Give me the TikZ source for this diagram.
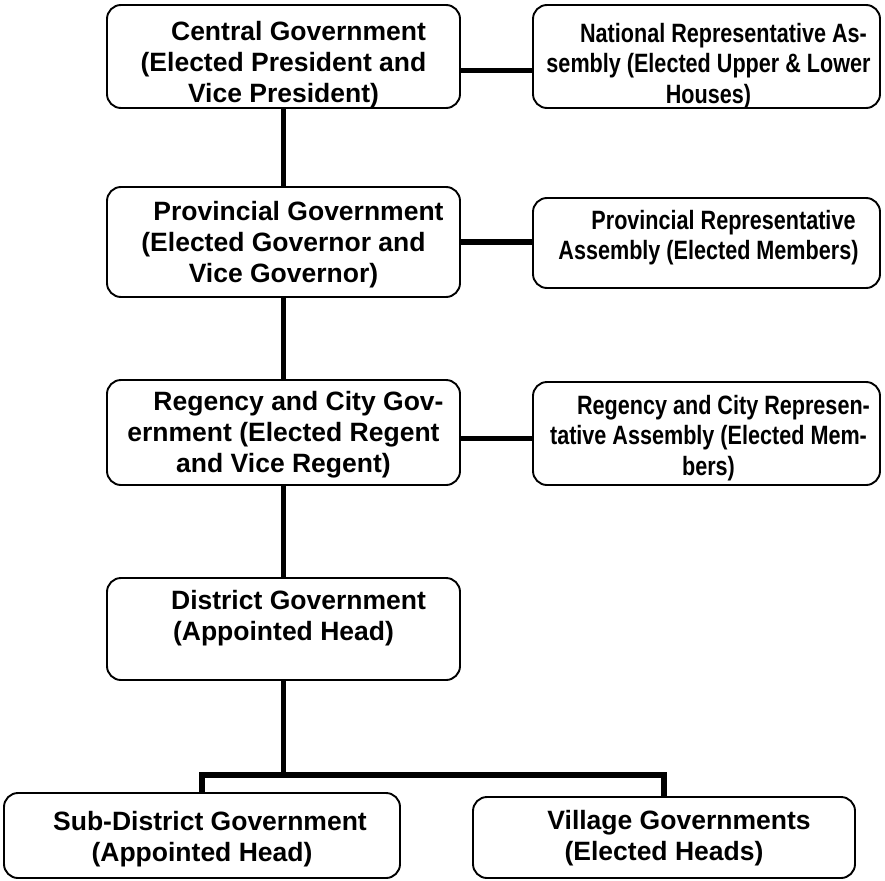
\documentclass[tikz,border=0pt]{standalone}
\usepackage{fontspec}
\setmainfont{Liberation Sans}
\newfontfamily\narrowsans[FakeStretch=0.815]{Liberation Sans}
\usetikzlibrary{positioning}

\tikzset{
  govbox/.style={draw, line width=1.9pt, rounded corners=14pt, inner sep=0pt},
  govtext/.style={align=center, inner sep=0pt, font=\fontsize{26.5}{31}\selectfont\bfseries},
  reptext/.style={align=center, inner sep=0pt, font=\narrowsans\fontsize{26.5}{30.5}\selectfont\bfseries},
  link/.style={line width=5.8pt}
}
\newcommand{\firstind}{\hspace*{30pt}}

\begin{document}
\begin{tikzpicture}[x=1pt,y=-1pt]
\useasboundingbox (0,0) rectangle (885,880);

% left column
\node[govbox, minimum width=353pt, minimum height=103pt] (cg) at (283.5,56.5) {};
\node[govbox, minimum width=353pt, minimum height=110pt] (pg) at (283.5,242) {};
\node[govbox, minimum width=353pt, minimum height=105pt] (rg) at (283.5,432.5) {};
\node[govbox, minimum width=353pt, minimum height=102pt] (dg) at (283.5,629) {};

% right column
\node[govbox, minimum width=347pt, minimum height=103pt] (nra) at (706.5,56.5) {};
\node[govbox, minimum width=347pt, minimum height=90pt] (pra) at (706.5,243) {};
\node[govbox, minimum width=347pt, minimum height=103pt] (rra) at (706.5,433.5) {};

% bottom row
\node[govbox, minimum width=396pt, minimum height=85pt] (sd) at (202,835.5) {};
\node[govbox, minimum width=382pt, minimum height=81pt] (vg) at (664,837.5) {};

% texts
\node[govtext, below=17pt of cg.north] (cgt) {\firstind Central Government\\(Elected President and\\Vice President)};
\node[govtext, below=15pt of pg.north] (pgt) {\firstind Provincial Government\\(Elected Governor and\\Vice Governor)};
\node[govtext, below=12pt of rg.north] (rgt) {\firstind Regency and City Gov-\\ernment (Elected Regent\\and Vice Regent)};
\node[govtext, below=13pt of dg.north] (dgt) {\firstind District Government\\(Appointed Head)};
\node[reptext, below=19pt of nra.north, xshift=2pt] (nrat) {\firstind National Representative As-\\sembly (Elected Upper \& Lower\\Houses)};
\node[reptext, below=13pt of pra.north, xshift=2pt] (prat) {\firstind Provincial Representative\\Assembly (Elected Members)};
\node[reptext, below=14pt of rra.north, xshift=2pt] (rrat) {\firstind Regency and City Represen-\\tative Assembly (Elected Mem-\\bers)};
\node[govtext, below=19pt of sd.north] (sdt) {\hspace*{16pt}Sub-District Government\\(Appointed Head)};
\node[govtext, below=14pt of vg.north] (vgt) {\firstind Village Governments\\(Elected Heads)};

% connectors
\draw[link] (cg) -- (pg);
\draw[link] (pg) -- (rg);
\draw[link] (rg) -- (dg);
\draw[link] ([yshift=-14pt]cg.east) -- ([yshift=-14pt]nra.west);
\draw[link] (pg.east) -- (pg.east -| pra.west);
\draw[link] ([yshift=-6pt]rg.east) -- ([yshift=-6pt]rg.east -| rra.west);

\coordinate (split) at (283.5,775);
\draw[link] (dg) -- (split);
\draw[link] (sd.north) |- (split) -| (vg.north);
\end{tikzpicture}
\end{document}
